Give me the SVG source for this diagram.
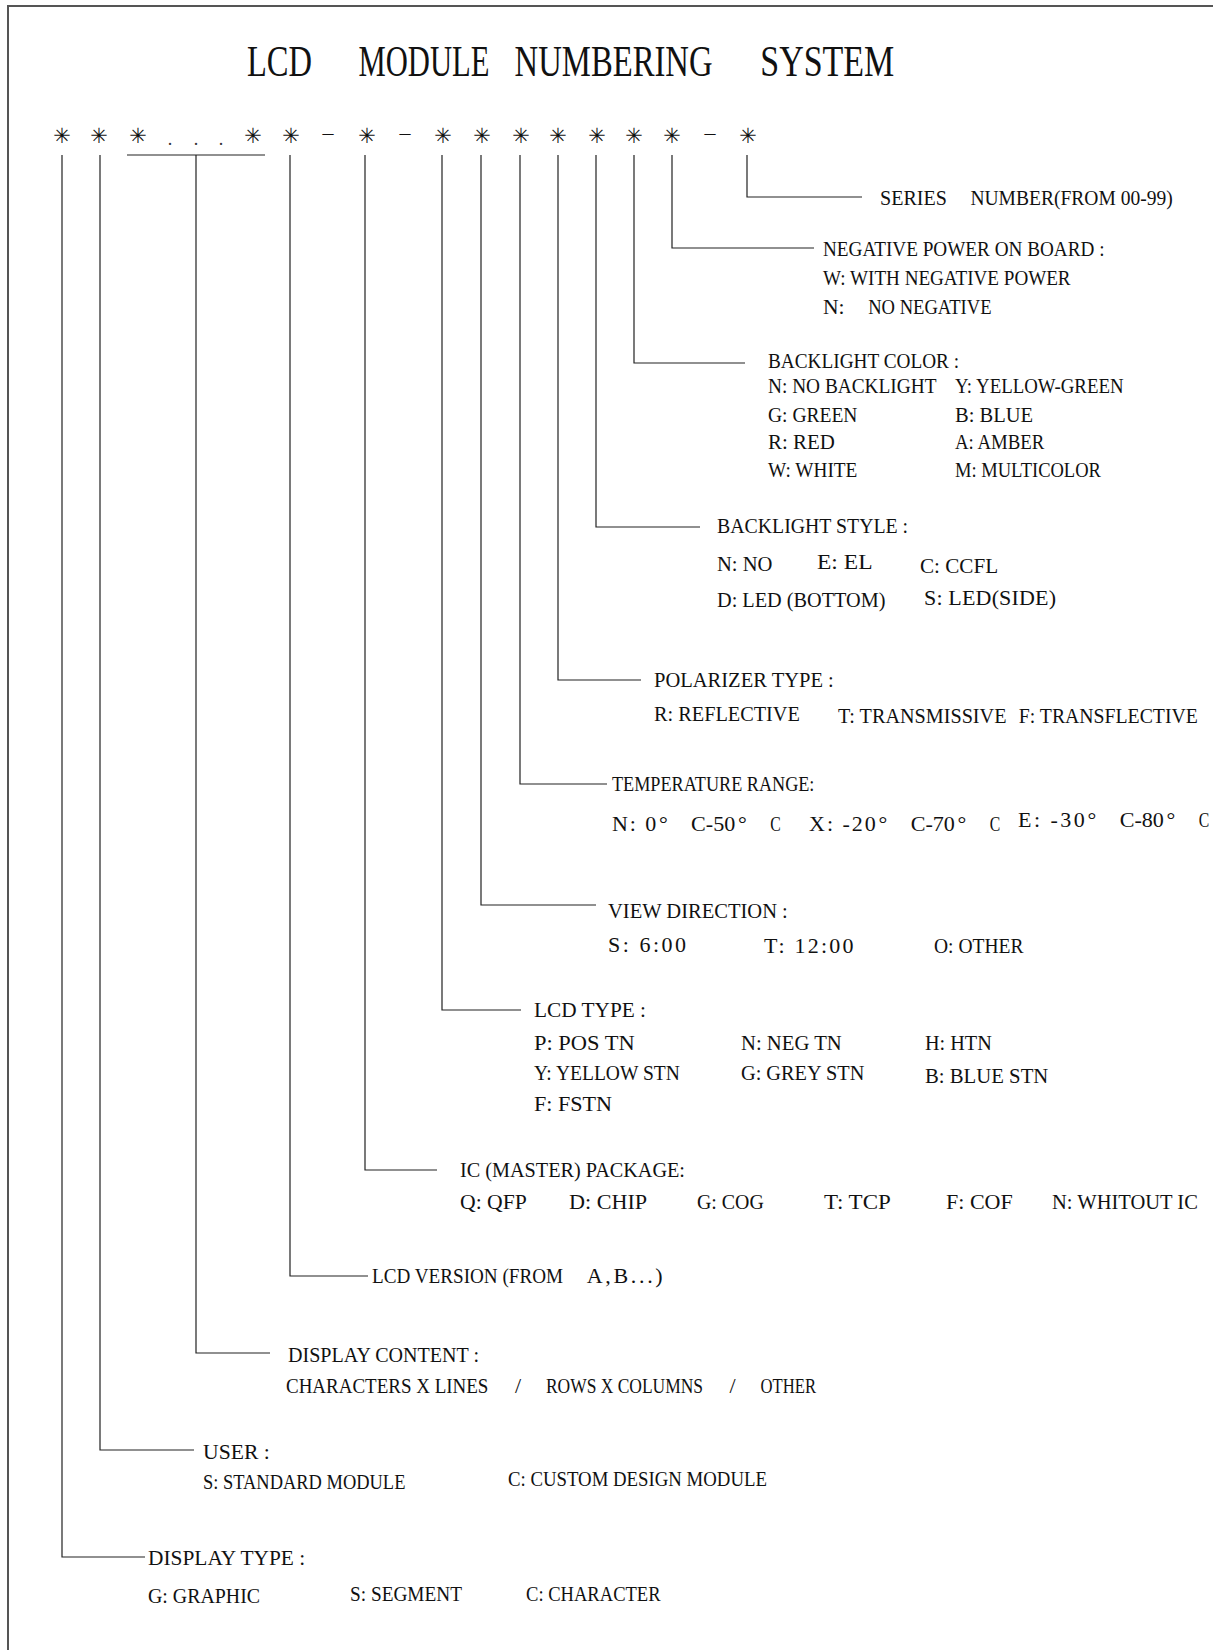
<svg xmlns="http://www.w3.org/2000/svg" width="1213" height="1650" viewBox="0 0 1213 1650" xml:space="preserve">
<style>
.t{font-family:"Liberation Serif","Times New Roman",serif;font-size:22px;fill:#111;white-space:pre}
.ttl{font-size:45px}
.ast{font-family:"DejaVu Sans",sans-serif;font-size:21px;fill:#111;text-anchor:middle}
.dot{font-family:"Liberation Serif",serif;font-size:18px;fill:#333;text-anchor:middle}
.dash{font-family:"Liberation Serif",serif;font-size:22px;fill:#111;text-anchor:middle}
.mid{text-anchor:middle}
.c{fill:none;stroke:#222;stroke-width:1.2}
.frame{fill:none;stroke:#555;stroke-width:2}
</style>
<rect width="1213" height="1650" fill="#fff"/>
<path class="frame" d="M8 1650V6H1213"/>
<g id="title">
<text class="t ttl" x="247" y="76" textLength="65" lengthAdjust="spacingAndGlyphs">LCD</text>
<text class="t ttl" x="358.5" y="76" textLength="131" lengthAdjust="spacingAndGlyphs">MODULE</text>
<text class="t ttl" x="514.6" y="76" textLength="198" lengthAdjust="spacingAndGlyphs">NUMBERING</text>
<text class="t ttl" x="760.3" y="76" textLength="134" lengthAdjust="spacingAndGlyphs">SYSTEM</text>
</g>
<g id="code">
<text class="ast" x="62" y="142.5">✳</text>
<text class="ast" x="99" y="142.5">✳</text>
<text class="ast" x="138" y="142.5">✳</text>
<text class="dot" x="170" y="145">.</text>
<text class="dot" x="196" y="145">.</text>
<text class="dot" x="221" y="145">.</text>
<text class="ast" x="253" y="142.5">✳</text>
<text class="ast" x="291" y="142.5">✳</text>
<text class="dash" x="328" y="140">–</text>
<text class="ast" x="367" y="142.5">✳</text>
<text class="dash" x="405" y="140">–</text>
<text class="ast" x="443" y="142.5">✳</text>
<text class="ast" x="482" y="142.5">✳</text>
<text class="ast" x="521" y="142.5">✳</text>
<text class="ast" x="558" y="142.5">✳</text>
<text class="ast" x="597" y="142.5">✳</text>
<text class="ast" x="634" y="142.5">✳</text>
<text class="ast" x="672" y="142.5">✳</text>
<text class="dash" x="710" y="140">–</text>
<text class="ast" x="748" y="142.5">✳</text>
</g>
<g id="connectors">
<path class="c" d="M62 155V1557H145"/>
<path class="c" d="M100 155V1450H194"/>
<path class="c" d="M127 155H265M196 155V1353H270"/>
<path class="c" d="M290 155V1276H368"/>
<path class="c" d="M365 155V1170H437"/>
<path class="c" d="M442 155V1010H521"/>
<path class="c" d="M481 155V905H596"/>
<path class="c" d="M520 155V784H607"/>
<path class="c" d="M558 155V680H641"/>
<path class="c" d="M596 155V527H700"/>
<path class="c" d="M634 155V363H745"/>
<path class="c" d="M672 155V248H814"/>
<path class="c" d="M747 155V197H862"/>
</g>
<g id="series">
<text class="t" x="880" y="205" textLength="66.8" lengthAdjust="spacingAndGlyphs">SERIES</text>
<text class="t" x="970.4" y="205" textLength="202.4" lengthAdjust="spacingAndGlyphs">NUMBER(FROM 00-99)</text>
</g>
<g id="negative-power">
<text class="t" x="823" y="256" textLength="281.5" lengthAdjust="spacingAndGlyphs">NEGATIVE POWER ON BOARD :</text>
<text class="t" x="823" y="285" textLength="247.6" lengthAdjust="spacingAndGlyphs">W: WITH NEGATIVE POWER</text>
<text class="t" x="823" y="314" textLength="21.6" lengthAdjust="spacingAndGlyphs">N:</text>
<text class="t" x="868.2" y="314" textLength="123.3" lengthAdjust="spacingAndGlyphs">NO NEGATIVE</text>
</g>
<g id="backlight-color">
<text class="t" x="768" y="368" textLength="191.1" lengthAdjust="spacingAndGlyphs">BACKLIGHT COLOR :</text>
<text class="t" x="768" y="393" textLength="168.5" lengthAdjust="spacingAndGlyphs">N: NO BACKLIGHT</text>
<text class="t" x="955" y="393" textLength="168.5" lengthAdjust="spacingAndGlyphs">Y: YELLOW-GREEN</text>
<text class="t" x="768" y="422" textLength="89.4" lengthAdjust="spacingAndGlyphs">G: GREEN</text>
<text class="t" x="955" y="422" textLength="78.1" lengthAdjust="spacingAndGlyphs">B: BLUE</text>
<text class="t" x="768" y="449" textLength="66.8" lengthAdjust="spacingAndGlyphs">R: RED</text>
<text class="t" x="955" y="449" textLength="89.4" lengthAdjust="spacingAndGlyphs">A: AMBER</text>
<text class="t" x="768" y="477" textLength="89.4" lengthAdjust="spacingAndGlyphs">W: WHITE</text>
<text class="t" x="955" y="477" textLength="145.9" lengthAdjust="spacingAndGlyphs">M: MULTICOLOR</text>
</g>
<g id="backlight-style">
<text class="t" x="717" y="533" textLength="191.1" lengthAdjust="spacingAndGlyphs">BACKLIGHT STYLE :</text>
<text class="t" x="717" y="571" textLength="55.5" lengthAdjust="spacingAndGlyphs">N: NO</text>
<text class="t" x="817" y="569" textLength="55.5" lengthAdjust="spacingAndGlyphs">E: EL</text>
<text class="t" x="920" y="573" textLength="78.1" lengthAdjust="spacingAndGlyphs">C: CCFL</text>
<text class="t" x="717" y="607" textLength="168.5" lengthAdjust="spacingAndGlyphs">D: LED (BOTTOM)</text>
<text class="t" x="924" y="605" textLength="132" lengthAdjust="spacing">S: LED(SIDE)</text>
</g>
<g id="polarizer-type">
<text class="t" x="654" y="687" textLength="179.8" lengthAdjust="spacingAndGlyphs">POLARIZER TYPE :</text>
<text class="t" x="654" y="721" textLength="145.9" lengthAdjust="spacingAndGlyphs">R: REFLECTIVE</text>
<text class="t" x="838" y="723" textLength="168.5" lengthAdjust="spacingAndGlyphs">T: TRANSMISSIVE</text>
<text class="t" x="1018.8" y="723" style="font-size:21px" textLength="179" lengthAdjust="spacingAndGlyphs">F: TRANSFLECTIVE</text>
</g>
<g id="temperature-range">
<text class="t" x="612" y="791" textLength="202.4" lengthAdjust="spacingAndGlyphs">TEMPERATURE RANGE:</text>
<text class="t" x="612" y="831" textLength="44.2" lengthAdjust="spacing">N: 0</text>
<text class="t" x="659" y="831">°</text>
<text class="t" x="691.1" y="831" textLength="44.2" lengthAdjust="spacingAndGlyphs">C-50</text>
<text class="t" x="738" y="831">°</text>
<text class="t" x="770.2" y="831" textLength="10.5" lengthAdjust="spacingAndGlyphs">C</text>
<text class="t" x="809" y="831" textLength="66.8" lengthAdjust="spacing">X: -20</text>
<text class="t" x="878.5" y="831">°</text>
<text class="t" x="910.7" y="831" textLength="44.2" lengthAdjust="spacingAndGlyphs">C-70</text>
<text class="t" x="957.5" y="831">°</text>
<text class="t" x="989.8" y="831" textLength="10.5" lengthAdjust="spacingAndGlyphs">C</text>
<text class="t" x="1018" y="827" textLength="66.8" lengthAdjust="spacing">E: -30</text>
<text class="t" x="1087.5" y="827">°</text>
<text class="t" x="1119.7" y="827" textLength="44.2" lengthAdjust="spacingAndGlyphs">C-80</text>
<text class="t" x="1166.5" y="827">°</text>
<text class="t" x="1198.8" y="827" textLength="10.5" lengthAdjust="spacingAndGlyphs">C</text>
</g>
<g id="view-direction">
<text class="t" x="608" y="918" textLength="179.8" lengthAdjust="spacingAndGlyphs">VIEW DIRECTION :</text>
<text class="t" x="608" y="952" textLength="78.1" lengthAdjust="spacing">S: 6:00</text>
<text class="t" x="764" y="953" textLength="89.4" lengthAdjust="spacing">T: 12:00</text>
<text class="t" x="934" y="953" textLength="89.4" lengthAdjust="spacingAndGlyphs">O: OTHER</text>
</g>
<g id="lcd-type">
<text class="t" x="534" y="1017" textLength="112" lengthAdjust="spacingAndGlyphs">LCD TYPE :</text>
<text class="t" x="534" y="1050" textLength="100.7" lengthAdjust="spacingAndGlyphs">P: POS TN</text>
<text class="t" x="741" y="1050" textLength="100.7" lengthAdjust="spacingAndGlyphs">N: NEG TN</text>
<text class="t" x="925" y="1050" textLength="66.8" lengthAdjust="spacingAndGlyphs">H: HTN</text>
<text class="t" x="534" y="1080" textLength="145.9" lengthAdjust="spacingAndGlyphs">Y: YELLOW STN</text>
<text class="t" x="741" y="1080" textLength="123.3" lengthAdjust="spacingAndGlyphs">G: GREY STN</text>
<text class="t" x="925" y="1083" textLength="123.3" lengthAdjust="spacingAndGlyphs">B: BLUE STN</text>
<text class="t" x="534" y="1111" textLength="78.1" lengthAdjust="spacingAndGlyphs">F: FSTN</text>
</g>
<g id="ic-package">
<text class="t" x="460" y="1177" textLength="225" lengthAdjust="spacingAndGlyphs">IC (MASTER) PACKAGE:</text>
<text class="t" x="460" y="1209" textLength="66.8" lengthAdjust="spacingAndGlyphs">Q: QFP</text>
<text class="t" x="569" y="1209" textLength="78.1" lengthAdjust="spacingAndGlyphs">D: CHIP</text>
<text class="t" x="697" y="1209" textLength="66.8" lengthAdjust="spacingAndGlyphs">G: COG</text>
<text class="t" x="824" y="1209" textLength="66.8" lengthAdjust="spacingAndGlyphs">T: TCP</text>
<text class="t" x="946" y="1209" textLength="66.8" lengthAdjust="spacingAndGlyphs">F: COF</text>
<text class="t" x="1052" y="1209" textLength="145.9" lengthAdjust="spacingAndGlyphs">N: WHITOUT IC</text>
</g>
<g id="lcd-version">
<text class="t" x="372" y="1283" textLength="191.1" lengthAdjust="spacingAndGlyphs">LCD VERSION (FROM</text>
<text class="t" x="586.7" y="1283" textLength="76" lengthAdjust="spacing">A,B...)</text>
</g>
<g id="display-content">
<text class="t" x="288" y="1362" textLength="191.1" lengthAdjust="spacingAndGlyphs">DISPLAY CONTENT :</text>
<text class="t" x="286" y="1393" textLength="202.4" lengthAdjust="spacingAndGlyphs">CHARACTERS X LINES</text>
<text class="t mid" x="518" y="1393">/</text>
<text class="t" x="545.9" y="1393" textLength="157.2" lengthAdjust="spacingAndGlyphs">ROWS X COLUMNS</text>
<text class="t mid" x="732.5" y="1393">/</text>
<text class="t" x="760.6" y="1393" textLength="55.5" lengthAdjust="spacingAndGlyphs">OTHER</text>
</g>
<g id="user">
<text class="t" x="203" y="1459" textLength="66.8" lengthAdjust="spacingAndGlyphs">USER :</text>
<text class="t" x="203" y="1489" textLength="202.4" lengthAdjust="spacingAndGlyphs">S: STANDARD MODULE</text>
<text class="t" x="508" y="1486" textLength="258.9" lengthAdjust="spacingAndGlyphs">C: CUSTOM DESIGN MODULE</text>
</g>
<g id="display-type">
<text class="t" x="148" y="1565" textLength="157.2" lengthAdjust="spacingAndGlyphs">DISPLAY TYPE :</text>
<text class="t" x="148" y="1603" textLength="112" lengthAdjust="spacingAndGlyphs">G: GRAPHIC</text>
<text class="t" x="350" y="1601" textLength="112" lengthAdjust="spacingAndGlyphs">S: SEGMENT</text>
<text class="t" x="526" y="1601" textLength="134.6" lengthAdjust="spacingAndGlyphs">C: CHARACTER</text>
</g>
</svg>
